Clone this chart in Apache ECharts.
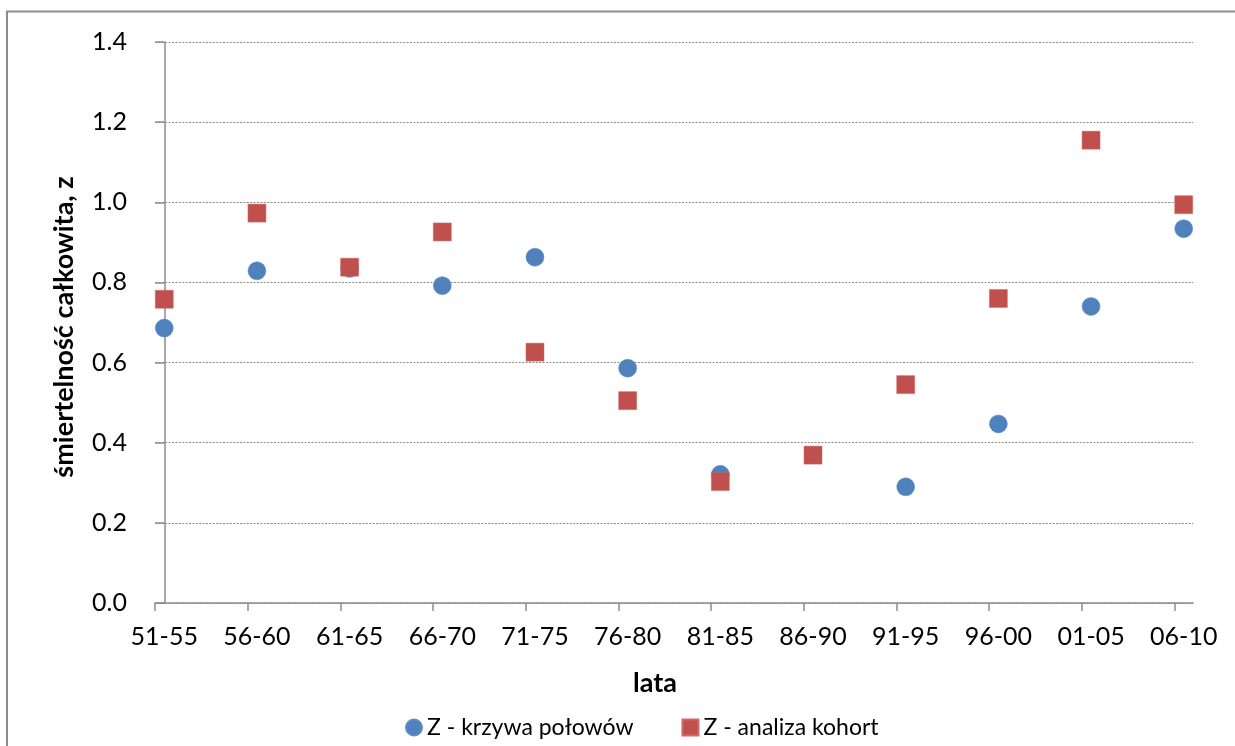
<!DOCTYPE html>
<html>
<head>
<meta charset="utf-8">
<script src="https://cdn.jsdelivr.net/npm/echarts@6/dist/echarts.min.js"></script>
<style>
  html, body { margin: 0; padding: 0; background: #fff; }
  #chart { width: 1235px; height: 746px; }
</style>
</head>
<body>
<div id="chart"></div>
<script>
// Okresy pięcioletnie
const categories = ['51-55', '56-60', '61-65', '66-70', '71-75', '76-80',
                    '81-85', '86-90', '91-95', '96-00', '01-05', '06-10'];

// Śmiertelność całkowita Z z krzywej połowów (brak wartości dla 86-90)
const zKrzywaPolowow = [0.686, 0.829, 0.835, 0.792, 0.863, 0.586,
                        0.321, null, 0.290, 0.447, 0.740, 0.934];

// Śmiertelność całkowita Z z analizy kohort
const zAnalizaKohort = [0.758, 0.973, 0.838, 0.926, 0.626, 0.505,
                        0.303, 0.369, 0.545, 0.760, 1.155, 0.994];

const yTicks = [0, 0.2, 0.4, 0.6, 0.8, 1.0, 1.2, 1.4];

const seriesNames = ['Z - krzywa połowów', 'Z - analiza kohort'];

const FONT = 'Lato, "Open Sans", sans-serif';
const AXIS_GREY = '#8c8c8c';

function toPoints(values) {
  const pts = [];
  values.forEach((v, i) => { if (v !== null) pts.push([i, v]); });
  return pts;
}

// tick marks sit slightly left of each category point
const idx = categories.map((_, i) => i);
const tickPositions = idx.map(i => i - 0.1);

const chart = echarts.init(document.getElementById('chart'), null, { renderer: 'canvas' });

chart.setOption({
  backgroundColor: '#ffffff',
  animation: false,
  grid: { left: 155, right: 42, top: 42, bottom: 143, containLabel: false },
  xAxis: {
    type: 'value',
    min: -0.1,
    max: 11.1,
    axisLine: { show: true, onZero: false, lineStyle: { color: AXIS_GREY, width: 1.5 } },
    axisTick: { show: true, length: 8, customValues: tickPositions,
                lineStyle: { color: AXIS_GREY, width: 1.5 } },
    axisLabel: {
      customValues: idx,
      margin: 21,
      fontFamily: FONT, fontSize: 25, color: '#000',
      formatter: v => categories[Math.round(v)] || ''
    },
    splitLine: { show: false }
  },
  yAxis: {
    type: 'value',
    min: yTicks[0],
    max: yTicks[yTicks.length - 1],
    interval: 0.2,
    axisLine: { show: true, lineStyle: { color: AXIS_GREY, width: 1.5 } },
    axisTick: { show: true, length: 9, lineStyle: { color: AXIS_GREY, width: 1.5 } },
    axisLabel: {
      margin: 28,
      fontFamily: FONT, fontSize: 25, color: '#000',
      formatter: v => v.toFixed(1)
    },
    splitLine: { show: true, lineStyle: { color: '#8a8a8a', width: 1, type: [2, 1.4] } }
  },
  legend: {
    left: 400,
    top: 711,
    itemWidth: 16,
    itemHeight: 16,
    itemGap: 48,
    textStyle: { fontFamily: FONT, fontSize: 23, color: '#000' },
    data: [
      { name: seriesNames[0], icon: 'circle' },
      { name: seriesNames[1], icon: 'rect' }
    ]
  },
  series: [
    {
      name: seriesNames[0],
      type: 'scatter',
      symbol: 'circle',
      symbolSize: 18,
      itemStyle: { color: '#4F81BD', borderColor: '#5a8bc6', borderWidth: 0.5, opacity: 1 },
      data: toPoints(zKrzywaPolowow),
      z: 2
    },
    {
      name: seriesNames[1],
      type: 'scatter',
      symbol: 'rect',
      symbolSize: 18,
      itemStyle: { color: '#C0504D', borderColor: '#d06a67', borderWidth: 0.5, opacity: 1 },
      data: toPoints(zAnalizaKohort),
      z: 3
    }
  ],
  graphic: [
    {
      type: 'rect',
      shape: { x: 7, y: 11.5, width: 1400, height: 900 },
      style: { fill: 'none', stroke: AXIS_GREY, lineWidth: 2 },
      silent: true, z: -1
    },
    {
      type: 'text',
      x: 64, y: 327,
      rotation: Math.PI / 2,
      style: {
        text: 'śmiertelność całkowita, z',
        font: 'bold 27px ' + FONT,
        fill: '#000',
        textAlign: 'center',
        textVerticalAlign: 'middle'
      }
    },
    {
      type: 'text',
      x: 655, y: 683,
      style: {
        text: 'lata',
        font: 'bold 27px ' + FONT,
        fill: '#000',
        textAlign: 'center',
        textVerticalAlign: 'middle'
      }
    }
  ]
});
</script>
</body>
</html>
